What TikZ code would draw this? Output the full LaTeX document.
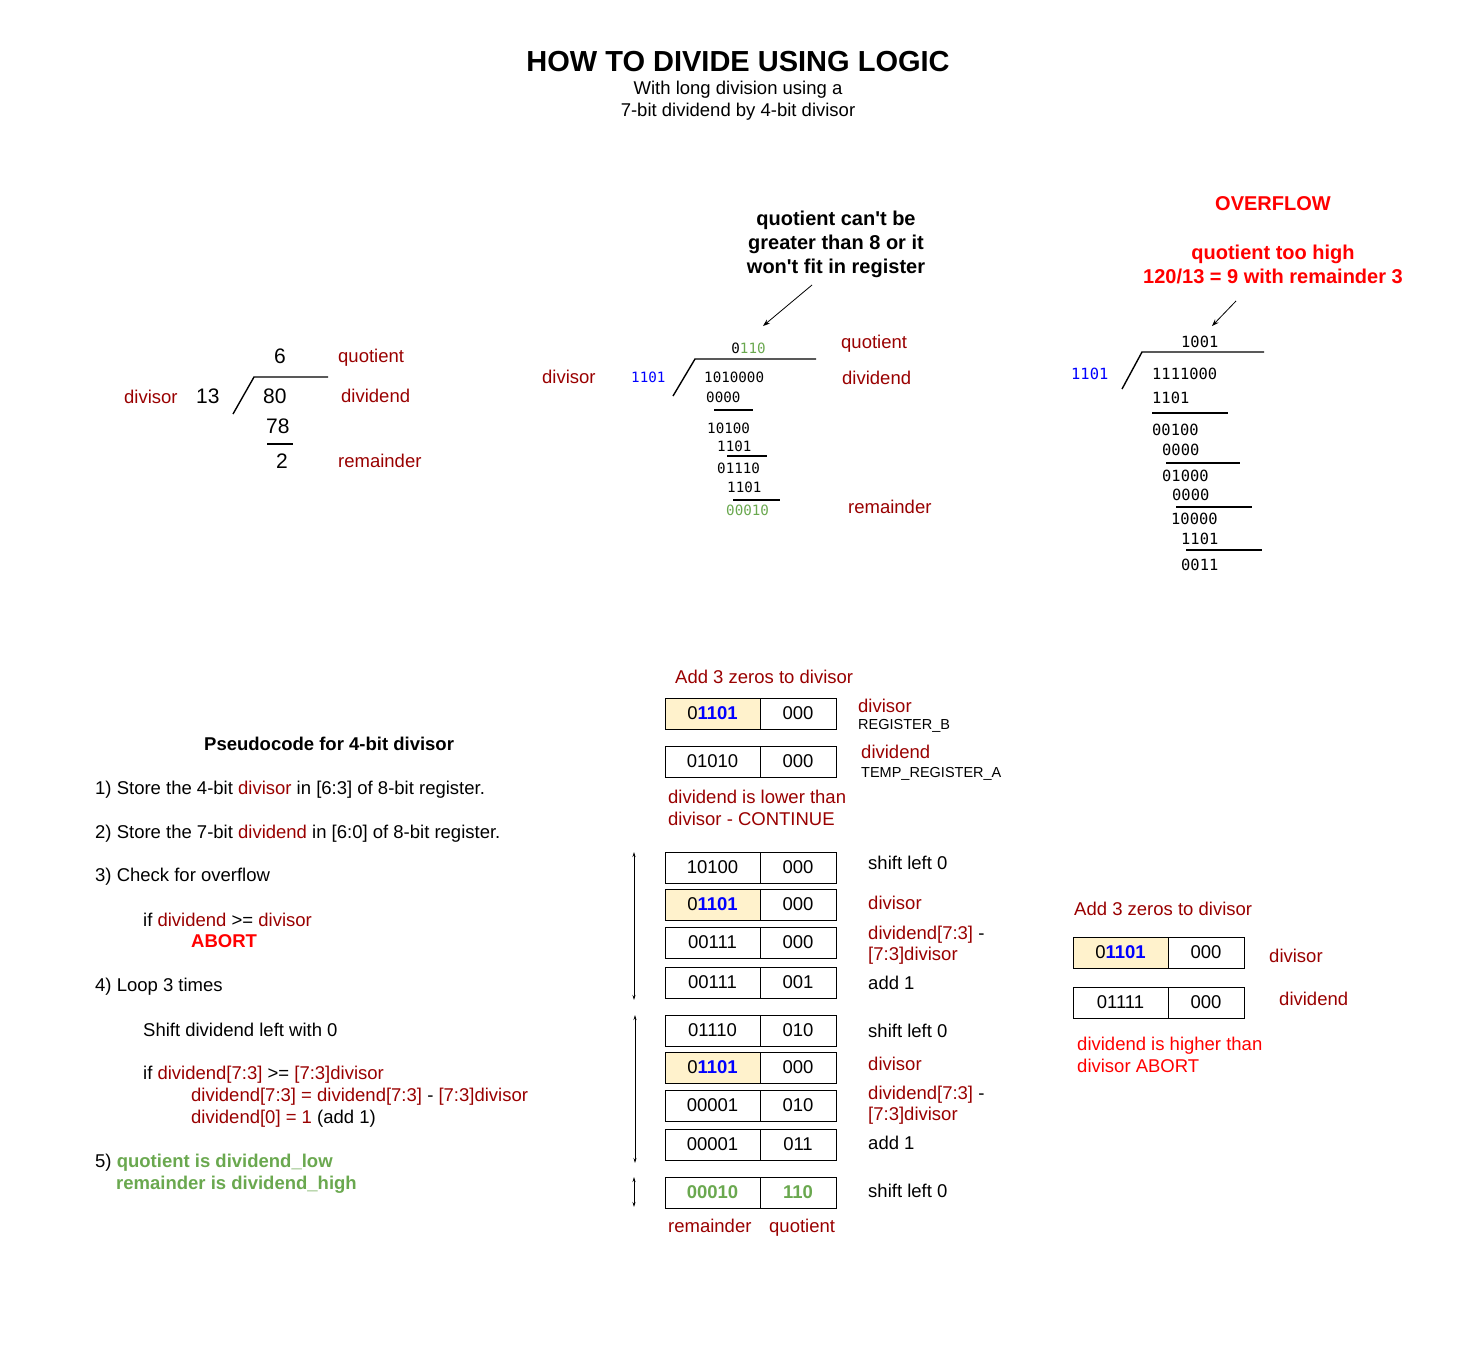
\documentclass[tikz,border=0pt]{standalone}
\usepackage{fontspec}
\setmainfont{Liberation Sans}
\newfontfamily\binfont{DejaVu Sans Mono}
\usetikzlibrary{positioning,arrows.meta}

\definecolor{dkred}{HTML}{990000}
\definecolor{brred}{HTML}{FF0000}
\definecolor{okgreen}{HTML}{6AA84F}
\definecolor{bitblue}{HTML}{0000FF}
\definecolor{divfill}{HTML}{FFF2CC}

\newcommand{\txtsz}{\fontsize{18.5}{22}\selectfont}
\newcommand{\bigsz}{\fontsize{21}{25}\selectfont}
\newcommand{\notesz}{\fontsize{20}{24}\selectfont\bfseries}
\newcommand{\titlesz}{\fontsize{29}{34}\selectfont\bfseries}
\newcommand{\regsz}{\fontsize{14.5}{17}\selectfont}
\newcommand{\binsz}{\binfont\fontsize{14.2}{16}\selectfont}
\newcommand{\binrsz}{\binfont\fontsize{15.4}{18}\selectfont}
\newcommand{\hib}[1]{\textbf{\textcolor{bitblue}{#1}}}
\newcommand{\dr}[1]{\textcolor{dkred}{#1}}

\begin{document}
\begin{tikzpicture}[x=1pt, y=-1pt,
  txt/.style={anchor=base west, inner sep=0pt, font=\txtsz},
  lbl/.style={txt, text=dkred},
  bin/.style={anchor=base west, inner sep=0pt, font=\binsz},
  binr/.style={anchor=base west, inner sep=0pt, font=\binrsz},
  big/.style={anchor=base west, inner sep=0pt, font=\bigsz},
  note/.style={anchor=base, inner sep=0pt, font=\notesz},
  hicell/.style={draw, line width=1pt, anchor=north west, minimum width=95, minimum height=31, inner sep=0pt, outer sep=0pt, font=\txtsz},
  locell/.style={draw, line width=1pt, minimum width=76, minimum height=31, inner sep=0pt, outer sep=0pt, font=\txtsz},
  divline/.style={line width=1.4pt},
  pointer/.style={line width=0.8pt, -{Stealth[length=7pt, width=5pt]}},
  looparrow/.style={line width=0.8pt, {Stealth[length=5pt, width=3pt]}-{Stealth[length=5pt, width=3pt]}}
]
\useasboundingbox (0,0) rectangle (1479,1371);

% Title
\node[anchor=base, inner sep=0pt, font=\titlesz] (title) at (738,71) {HOW TO DIVIDE USING LOGIC};
\node[anchor=base, inner sep=0pt, font=\txtsz] (sub1) at (738,94) {With long division using a};
\node[anchor=base, inner sep=0pt, font=\txtsz] (sub2) at (738,116) {7-bit dividend by 4-bit divisor};

% Decimal long division
\node[big] (dq) at (274,363) {6};
\node[lbl] (dql) at (338,362) {quotient};
\node[lbl] (ddl) at (124,403) {divisor};
\node[big] (dd) at (196,403) {13};
\node[big] (dn) at (263,403) {80};
\node[lbl] (dnl) at (341,402) {dividend};
\node[big] (ds) at (266,433) {78};
\node[big] (dr) at (276,468) {2};
\node[lbl] (drl) at (338,467) {remainder};
\draw[divline] (233,414) -- (254,377) -- (328,377);
\draw[divline] (267,444) -- (293,444);

% Binary long division (80/13)
\node[note] (mn1) at (836,225) {quotient can\textquotesingle t be};
\node[note] (mn2) at (836,249) {greater than 8 or it};
\node[note] (mn3) at (836,273) {won\textquotesingle t fit in register};
\coordinate (mna) at (812,285);
\coordinate (mnb) at (763,326);
\draw[pointer] (mna) -- (mnb);

\node[bin, anchor=base] (mq) at (748.5,353) {0\textcolor{okgreen}{110}};
\node[lbl] (mql) at (841,348) {quotient};
\node[lbl] (mdl) at (542,383) {divisor};
\node[bin, text=bitblue] (md) at (631,382) {1101};
\node[bin] (mn) at (704,382) {1010000};
\node[lbl] (mnl) at (842,384) {dividend};
\node[bin] (ms1) at (706,402) {0000};
\node[bin] (mp1) at (707,433) {10100};
\node[bin] (ms2) at (717,451) {1101};
\node[bin] (mp2) at (717,473) {01110};
\node[bin] (ms3) at (727,492) {1101};
\node[bin, text=okgreen] (mr) at (726,515) {00010};
\node[lbl] (mrl) at (848,513) {remainder};
\draw[divline] (673,396) -- (695,359) -- (816,359);
\draw[divline] (714,410) -- (753,410);
\draw[divline] (727,456) -- (767,456);
\draw[divline] (733,500) -- (780,500);

% Binary long division (120/13), overflow
\node[note, text=brred] (ovt) at (1273,210) {OVERFLOW};
\node[note, text=brred] (ov1) at (1273,259) {quotient too high};
\node[note, text=brred] (ov2) at (1273,283) {120/13 = 9 with remainder 3};
\coordinate (ova) at (1236,301);
\coordinate (ovb) at (1212,326);
\draw[pointer] (ova) -- (ovb);

\node[binr] (oq) at (1181,347) {1001};
\node[binr, text=bitblue] (od) at (1071,379) {1101};
\node[binr] (on) at (1152,379) {1111000};
\node[binr] (os1) at (1152,403) {1101};
\node[binr] (op1) at (1152,435) {00100};
\node[binr] (os2) at (1162,455) {0000};
\node[binr] (op2) at (1162,481) {01000};
\node[binr] (os3) at (1172,500) {0000};
\node[binr] (op3) at (1171,524) {10000};
\node[binr] (os4) at (1181,544) {1101};
\node[binr] (or) at (1181,570) {0011};
\draw[divline] (1122,389) -- (1142,352) -- (1264,352);
\draw[divline] (1152,413) -- (1228,413);
\draw[divline] (1166,463) -- (1240,463);
\draw[divline] (1176,507) -- (1252,507);
\draw[divline] (1186,550) -- (1262,550);

% Pseudocode
\node[txt, font=\txtsz\bfseries] (pc) at (204,750) {Pseudocode for 4-bit divisor};
\node[txt] (pc1) at (95,794) {1) Store the 4-bit \dr{divisor} in [6:3] of 8-bit register.};
\node[txt] (pc2) at (95,838) {2) Store the 7-bit \dr{dividend} in [6:0] of 8-bit register.};
\node[txt] (pc3) at (95,881) {3) Check for overflow};
\node[txt] (pc3a) at (143,926) {if \dr{dividend} >= \dr{divisor}};
\node[txt, font=\txtsz\bfseries, text=brred] (pc3b) at (191,947) {ABORT};
\node[txt] (pc4) at (95,991) {4) Loop 3 times};
\node[txt] (pc4a) at (143,1036) {Shift dividend left with 0};
\node[txt] (pc4b) at (143,1079) {if \dr{dividend[7:3]} >= \dr{[7:3]divisor}};
\node[txt] (pc4c) at (191,1101) {\dr{dividend[7:3] = dividend[7:3]} - \dr{[7:3]divisor}};
\node[txt] (pc4d) at (191,1123) {\dr{dividend[0] = 1} (add 1)};
\node[txt] (pc5) at (95,1167) {5) \textcolor{okgreen}{\bfseries quotient is dividend\_low}};
\node[txt, font=\txtsz\bfseries, text=okgreen] (pc5a) at (116,1189) {remainder is dividend\_high};

% Registers, setup
\node[lbl] (zl) at (675,683) {Add 3 zeros to divisor};
\node[hicell, fill=divfill] (regb) at (665,698) {0\hib{1101}};
\node[locell, right=0pt of regb] (regbz) {000};
\node[lbl] (regbl) at (858,712) {divisor};
\node[txt, font=\regsz] (regbn) at (858,729) {REGISTER\_B};
\node[hicell] (rega) at (665,746) {01010};
\node[locell, right=0pt of rega] (regaz) {000};
\node[lbl] (regal) at (861,758) {dividend};
\node[txt, font=\regsz] (regan) at (861,777) {TEMP\_REGISTER\_A};
\node[lbl] (cont1) at (668,803) {dividend is lower than};
\node[lbl] (cont2) at (668,825) {divisor - CONTINUE};

% Registers, loop 1
\node[hicell] (l1s) at (665,852) {10100};
\node[locell, right=0pt of l1s] (l1sz) {000};
\node[hicell, fill=divfill] (l1d) at (665,889) {0\hib{1101}};
\node[locell, right=0pt of l1d] (l1dz) {000};
\node[hicell] (l1r) at (665,927) {00111};
\node[locell, right=0pt of l1r] (l1rz) {000};
\node[hicell] (l1a) at (665,967) {00111};
\node[locell, right=0pt of l1a] (l1az) {001};
\node[txt] (l1sl) at (868,869) {shift left 0};
\node[lbl] (l1dl) at (868,909) {divisor};
\node[txt] (l1rl) at (868,939) {\dr{dividend[7:3]} -};
\node[lbl] (l1rm) at (868,960) {[7:3]divisor};
\node[txt] (l1al) at (868,989) {add 1};
\coordinate (l1top) at (634,852);
\coordinate (l1bot) at (634,1000);
\draw[looparrow] (l1top) -- (l1bot);

% Registers, loop 2
\node[hicell] (l2s) at (665,1015) {01110};
\node[locell, right=0pt of l2s] (l2sz) {010};
\node[hicell, fill=divfill] (l2d) at (665,1052) {0\hib{1101}};
\node[locell, right=0pt of l2d] (l2dz) {000};
\node[hicell] (l2r) at (665,1090) {00001};
\node[locell, right=0pt of l2r] (l2rz) {010};
\node[hicell] (l2a) at (665,1129) {00001};
\node[locell, right=0pt of l2a] (l2az) {011};
\node[txt] (l2sl) at (868,1037) {shift left 0};
\node[lbl] (l2dl) at (868,1070) {divisor};
\node[txt] (l2rl) at (868,1099) {\dr{dividend[7:3]} -};
\node[lbl] (l2rm) at (868,1120) {[7:3]divisor};
\node[txt] (l2al) at (868,1149) {add 1};
\coordinate (l2top) at (635,1015);
\coordinate (l2bot) at (635,1163);
\draw[looparrow] (l2top) -- (l2bot);

% Registers, result
\node[hicell, font=\txtsz\bfseries, text=okgreen] (fin) at (665,1177) {00010};
\node[locell, font=\txtsz\bfseries, text=okgreen, right=0pt of fin] (finz) {110};
\node[txt] (finl) at (868,1197) {shift left 0};
\node[lbl] (finr) at (668,1232) {remainder};
\node[lbl] (finq) at (769,1232) {quotient};
\coordinate (fintop) at (634,1177);
\coordinate (finbot) at (634,1207);
\draw[looparrow] (fintop) -- (finbot);

% Registers, overflow case
\node[lbl] (ozl) at (1074,915) {Add 3 zeros to divisor};
\node[hicell, fill=divfill] (ovrb) at (1073,937) {0\hib{1101}};
\node[locell, right=0pt of ovrb] (ovrbz) {000};
\node[lbl] (ovrbl) at (1269,962) {divisor};
\node[hicell] (ovra) at (1073,987) {01111};
\node[locell, right=0pt of ovra] (ovraz) {000};
\node[lbl] (ovral) at (1279,1005) {dividend};
\node[txt, text=brred] (ab1) at (1077,1050) {dividend is higher than};
\node[txt, text=brred] (ab2) at (1077,1072) {divisor ABORT};

\end{tikzpicture}
\end{document}
